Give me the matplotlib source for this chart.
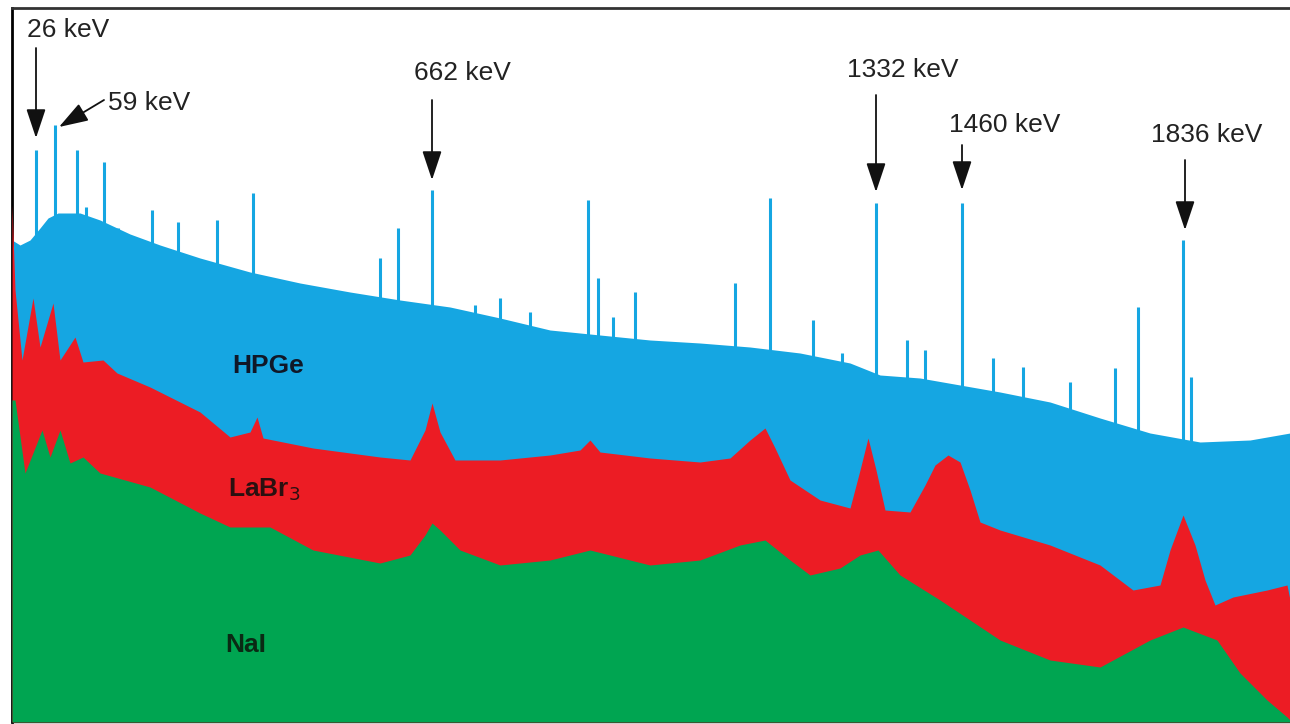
import matplotlib.pyplot as plt

# Espectros (canal, cuentas arb.)
hpge_ch = [0, 8, 18, 28, 36, 46, 68, 88, 118, 148, 188, 238, 288, 338, 388, 438, 488, 538,
           588, 638, 688, 738, 788, 838, 868, 908, 948, 988, 1038, 1088, 1138, 1188, 1238, 1278]
hpge_y = [482, 477, 482, 494, 504, 509, 509, 502, 488, 477, 464, 450, 439, 430, 422, 415, 404, 392,
          387, 382, 379, 375, 369, 359, 347, 344, 337, 330, 320, 304, 289, 280, 282, 289]

# Picos finos del HPGe
pico_ch = [24, 43, 65, 74, 92, 106, 140, 166, 205, 241, 368, 386, 420, 463, 488, 518, 576, 586,
           601, 623, 723, 758, 801, 830, 864, 895, 913, 950, 981, 1011, 1058, 1103, 1126, 1171, 1179]
pico_y = [572, 597, 572, 515, 560, 494, 512, 500, 502, 529, 464, 494, 532, 417, 424, 410, 522, 444,
          405, 430, 439, 524, 402, 369, 519, 382, 372, 519, 364, 355, 340, 354, 415, 482, 345]

labr_ch = [0, 3, 10, 21, 28, 41, 48, 63, 71, 91, 105, 138, 188, 218, 238, 245, 251, 301, 368, 398,
           413, 420, 428, 443, 488, 538, 568, 578, 588, 638, 688, 718, 738, 753, 763, 778, 808, 838,
           848, 856, 864, 873, 898, 913, 923, 936, 948, 958, 968, 988, 1038, 1088, 1121, 1148, 1158,
           1171, 1183, 1193, 1203, 1221, 1255, 1275, 1278]
labr_y = [517, 432, 362, 424, 375, 419, 362, 385, 360, 362, 349, 335, 310, 285, 290, 305, 284, 274, 265, 262,
          292, 319, 290, 262, 262, 267, 272, 282, 270, 264, 260, 264, 282, 294, 274, 242, 222, 214,
          252, 284, 252, 212, 210, 237, 257, 267, 260, 232, 200, 192, 177, 157, 132, 137, 172,
          207, 177, 142, 117, 125, 132, 137, 122]

nai_ch = [0, 3, 13, 30, 38, 48, 58, 71, 88, 138, 188, 218, 258, 301, 368, 398, 413, 420, 428, 448,
          488, 538, 578, 638, 688, 728, 753, 778, 798, 828, 848, 866, 888, 928, 958, 988, 1038, 1088,
          1138, 1171, 1205, 1228, 1255, 1275, 1278]
nai_y = [322, 322, 249, 292, 265, 292, 259, 265, 249, 235, 209, 195, 195, 172, 159, 167, 187, 199, 192, 172,
         157, 162, 172, 157, 162, 177, 182, 162, 147, 154, 167, 172, 147, 122, 102, 82, 62, 55,
         82, 95, 82, 49, 22, 5, 2]

# Etiquetas de energia
energias = ['26 keV', '59 keV', '662 keV', '1332 keV', '1460 keV', '1836 keV']

azul = '#15a6e2'
rojo = '#ec1c24'
verde = '#00a551'

fig = plt.figure(figsize=(12.9, 7.24), dpi=100)
ax = fig.add_axes([12 / 1290, 2 / 724, 1 - 12 / 1290, 714 / 724])

ax.vlines(pico_ch, 0, pico_y, color=azul, lw=2.2, zorder=1)
ax.fill_between(hpge_ch, 0, hpge_y, color=azul, lw=0, zorder=2)
ax.fill_between(labr_ch, 0, labr_y, color=rojo, lw=0, zorder=3)
ax.fill_between(nai_ch, 0, nai_y, color=verde, lw=0, zorder=4)

ax.set_xlim(0, 1278)
ax.set_ylim(0, 714)
ax.set_xticks([])
ax.set_yticks([])
ax.spines['right'].set_visible(False)
ax.spines['left'].set_linewidth(2)
ax.spines['top'].set_linewidth(2)
ax.spines['top'].set_color('#333333')
ax.spines['bottom'].set_linewidth(1)

fuente = 'Liberation Sans'
flecha = dict(arrowstyle='-|>,head_length=0.9,head_width=0.3', color='#111111', lw=1.3,
              shrinkA=0, shrinkB=0, mutation_scale=20)

ax.text(56, 692, energias[0], ha='center', va='center', fontsize=19, family=fuente, color='#222222', zorder=6)
ax.annotate('', xy=(24, 584), xytext=(24, 674), arrowprops=flecha, zorder=6)

ax.text(96, 619, energias[1], ha='left', va='center', fontsize=19, family=fuente, color='#222222', zorder=6)
ax.annotate('', xy=(47, 595), xytext=(92, 622), arrowprops=flecha, zorder=6)

ax.text(450, 649, energias[2], ha='center', va='center', fontsize=19, family=fuente, color='#222222', zorder=6)
ax.annotate('', xy=(420, 542), xytext=(420, 622), arrowprops=flecha, zorder=6)

ax.text(891, 652, energias[3], ha='center', va='center', fontsize=19, family=fuente, color='#222222', zorder=6)
ax.annotate('', xy=(864, 530), xytext=(864, 627), arrowprops=flecha, zorder=6)

ax.text(993, 597, energias[4], ha='center', va='center', fontsize=19, family=fuente, color='#222222', zorder=6)
ax.annotate('', xy=(950, 532), xytext=(950, 577), arrowprops=flecha, zorder=6)

ax.text(1195, 587, energias[5], ha='center', va='center', fontsize=19, family=fuente, color='#222222', zorder=6)
ax.annotate('', xy=(1173, 492), xytext=(1173, 562), arrowprops=flecha, zorder=6)

# Nombres de los detectores
ax.text(256, 356, 'HPGe', ha='center', va='center', fontsize=19, fontweight='bold',
        family=fuente, color='#101828', zorder=6)
ax.text(252, 232, 'LaBr$_3$', ha='center', va='center', fontsize=19, fontweight='bold',
        family=fuente, color='#2a1010', zorder=6)
ax.text(234, 77, 'NaI', ha='center', va='center', fontsize=19, fontweight='bold',
        family=fuente, color='#0a2a14', zorder=6)

plt.savefig('out.png', dpi=100)
